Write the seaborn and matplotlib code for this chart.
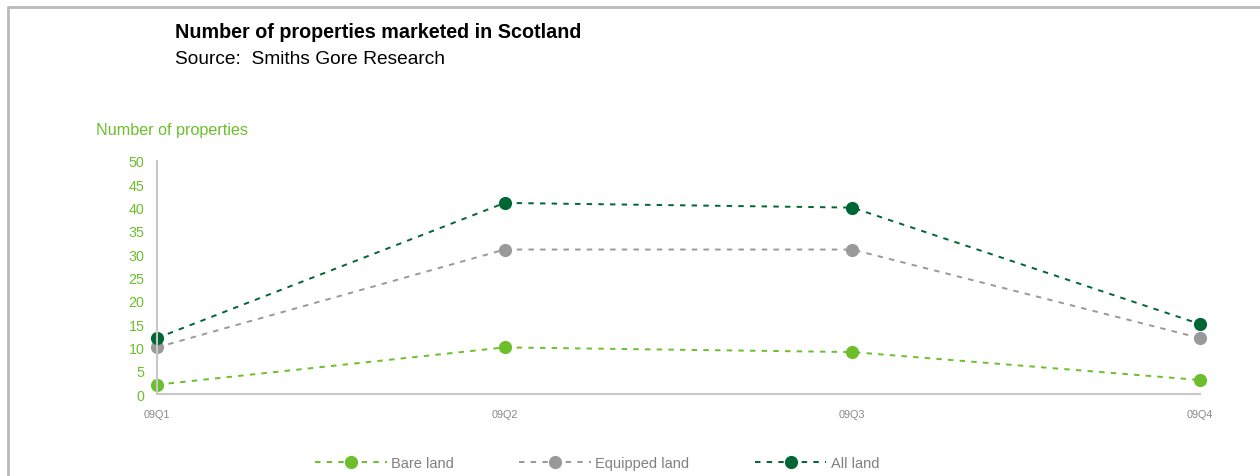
import matplotlib
matplotlib.use("Agg")
import matplotlib.pyplot as plt
from matplotlib.lines import Line2D
import seaborn as sns
import pandas as pd

quarters = ["09Q1", "09Q2", "09Q3", "09Q4"]
bare_land = [2, 10, 9, 3]
equipped_land = [10, 31, 31, 12]
all_land = [12, 41, 40, 15]
series_names = ["Bare land", "Equipped land", "All land"]
y_ticks = [0, 5, 10, 15, 20, 25, 30, 35, 40, 45, 50]

GREEN = "#6CBF2B"
GREY = "#999999"
DARK = "#006633"
colors = {"Bare land": GREEN, "Equipped land": GREY, "All land": DARK}

rows = []
for name, vals in zip(series_names, [bare_land, equipped_land, all_land]):
    for i, (q, v) in enumerate(zip(quarters, vals)):
        rows.append({"pos": i, "quarter": q, "value": v, "series": name})
df = pd.DataFrame(rows)

sns.set_theme(style="white")
plt.rcParams["font.family"] = ["Liberation Sans", "DejaVu Sans"]

fig = plt.figure(figsize=(12.6, 4.77), dpi=100)
ax = fig.add_axes([0.1246, 0.1719, 0.9524 - 0.1246, 0.6604 - 0.1719])

dash = (2.8, 3.2)
sns.lineplot(data=df, x="pos", y="value", hue="series", style="series",
             palette=colors, dashes={n: dash for n in series_names},
             markers={n: "o" for n in series_names}, markersize=9.5,
             markeredgewidth=0, linewidth=1.4, ax=ax, legend=False,
             hue_order=series_names, style_order=series_names)
for line in ax.lines:
    line.set_clip_on(False)

ax.set_xlim(0, 3)
ax.set_ylim(0, 50)
ax.set_xticks(range(len(quarters)))
ax.set_xticklabels(quarters)
ax.set_yticks(y_ticks)
ax.set_xlabel("")
ax.set_ylabel("")
for s in ["top", "right"]:
    ax.spines[s].set_visible(False)
for s in ["left", "bottom"]:
    ax.spines[s].set_color("#C8C8C8")
    ax.spines[s].set_linewidth(1.5)
ax.tick_params(axis="y", colors="#C8C8C8", labelcolor=GREEN, labelsize=10.3,
               length=0, pad=9)
ax.tick_params(axis="x", colors="#C8C8C8", labelcolor="#888888", labelsize=7.8,
               length=4, width=1.2, direction="out", pad=7)
ax.grid(False)

fig.text(175 / 1260, 1 - 33 / 477, "Number of properties marketed in Scotland",
         fontsize=14.2, fontweight="bold", color="black", va="center", ha="left")
fig.text(175 / 1260, 1 - 60 / 477, "Source:  Smiths Gore Research",
         fontsize=13.8, color="black", va="center", ha="left")
fig.text(96 / 1260, 1 - 131 / 477, "Number of properties",
         fontsize=11.6, color=GREEN, va="center", ha="left")

# frame around the chart area (top and left edges)
fig.add_artist(Line2D([7.5 / 1260, 7.5 / 1260], [0, 1 - 7.5 / 477],
                      transform=fig.transFigure, color="#BBBBBB", linewidth=2))
fig.add_artist(Line2D([7.5 / 1260, 1], [1 - 7.5 / 477, 1 - 7.5 / 477],
                      transform=fig.transFigure, color="#BBBBBB", linewidth=2))

handles = [Line2D([0], [0], color=colors[n], linestyle=(0, dash), linewidth=1.4,
                  marker="o", markersize=9.5, markeredgewidth=0)
           for n in series_names]
fig.legend(handles, series_names, loc="center", bbox_to_anchor=(0.474, 1 - 464 / 477),
           ncol=3, frameon=False, fontsize=10.5, labelcolor="#808080",
           handlelength=4.9, columnspacing=4.5, handletextpad=0.3)

fig.savefig("out.png", dpi=100)
